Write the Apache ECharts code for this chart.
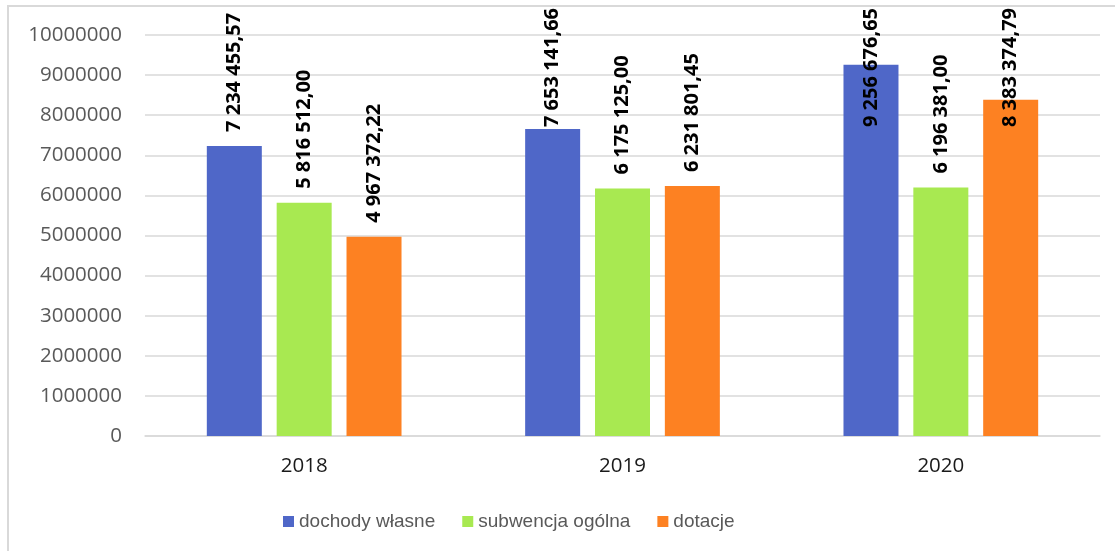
<!DOCTYPE html>
<html>
<head>
<meta charset="utf-8">
<script src="https://cdn.jsdelivr.net/npm/echarts@6/dist/echarts.min.js"></script>
<style>
  html, body { margin: 0; padding: 0; background: #ffffff; }
  #chart { width: 1115px; height: 551px; }
</style>
</head>
<body>
<div id="chart"></div>
<script>
// Budget revenue by source, 2018–2020 (PLN)
const years = ['2018', '2019', '2020'];
const seriesNames = ['dochody własne', 'subwencja ogólna', 'dotacje'];
const dochodyWlasne = [7234455.57, 7653141.66, 9256676.65];
const subwencjaOgolna = [5816512.00, 6175125.00, 6196381.00];
const dotacje = [4967372.22, 6231801.45, 8383374.79];
const yMin = 0;
const yMax = 10000000;
const yStep = 1000000;

const seriesValues = [dochodyWlasne, subwencjaOgolna, dotacje];
const colors = ['#4f67c8', '#a8e951', '#fd8122'];

const LABEL_FONT_SIZE = 20;
const LABEL_FONT_FAMILY = '"Open Sans", "Noto Sans", sans-serif';
const LABEL_GAP = 14;        // space between bar top and label start
const LABEL_TOP_LIMIT = 8;   // labels are kept below this line

// Polish number format: "7 234 455,57"
function plNumber(v) {
  const parts = v.toFixed(2).split('.');
  return parts[0].replace(/\B(?=(\d{3})+(?!\d))/g, ' ') + ',' + parts[1];
}

const measureCtx = document.createElement('canvas').getContext('2d');
function textWidth(str) {
  measureCtx.font = 'bold ' + LABEL_FONT_SIZE + 'px ' + LABEL_FONT_FAMILY;
  return measureCtx.measureText(str).width;
}

const chart = echarts.init(document.getElementById('chart'), null, { renderer: 'canvas' });

function buildSeries(distances) {
  return seriesNames.map((name, si) => ({
    name: name,
    type: 'bar',
    barWidth: 55,
    barGap: '27%',
    itemStyle: { color: colors[si] },
    label: {
      show: true,
      position: 'top',
      distance: LABEL_GAP,
      rotate: 90,
      align: 'left',
      verticalAlign: 'middle',
      color: '#000000',
      fontFamily: LABEL_FONT_FAMILY,
      fontWeight: 'bold',
      fontSize: LABEL_FONT_SIZE,
      formatter: p => plNumber(p.value)
    },
    data: seriesValues[si].map((v, i) => distances
      ? { value: v, label: { distance: distances[si][i] } }
      : v)
  }));
}

const option = {
  backgroundColor: '#ffffff',
  animation: false,
  grid: { left: 145, right: 15, top: 35, bottom: 115, containLabel: false },
  legend: {
    data: seriesNames,
    left: 278,
    top: 507,
    icon: 'rect',
    itemWidth: 11,
    itemHeight: 11,
    itemGap: 27,
    textStyle: { fontFamily: '"Liberation Sans", Arial, sans-serif', fontSize: 19, color: '#595959' }
  },
  xAxis: {
    type: 'category',
    data: years,
    axisTick: { show: false },
    axisLine: { show: true, lineStyle: { color: '#d9d9d9', width: 1.5 } },
    axisLabel: { margin: 20, fontFamily: '"Open Sans", sans-serif', fontSize: 20.5, color: '#1a1a1a' }
  },
  yAxis: {
    type: 'value',
    min: yMin,
    max: yMax,
    interval: yStep,
    axisLine: { show: false },
    axisTick: { show: false },
    splitLine: { lineStyle: { color: '#d9d9d9', width: 1.5 } },
    axisLabel: {
      margin: 23,
      fontFamily: '"Open Sans", sans-serif',
      fontSize: 20.5,
      color: '#595959',
      formatter: v => String(v)
    }
  },
  graphic: [{
    type: 'polyline',
    silent: true,
    shape: { points: [[8, 551], [8, 6], [1115, 6]] },
    style: { stroke: '#d9d9d9', lineWidth: 2, fill: null }
  }],
  series: buildSeries(null)
};

chart.setOption(option);

// Keep tall value labels inside the chart area by sliding them down into the bar
const distances = seriesValues.map(vals => vals.map(v => {
  const barTop = chart.convertToPixel({ yAxisIndex: 0 }, v);
  const w = textWidth(plNumber(v));
  const naturalTop = barTop - LABEL_GAP - w;
  if (naturalTop >= LABEL_TOP_LIMIT) return LABEL_GAP;
  return barTop - (LABEL_TOP_LIMIT + w);
}));
chart.setOption({ series: buildSeries(distances) });
</script>
</body>
</html>
